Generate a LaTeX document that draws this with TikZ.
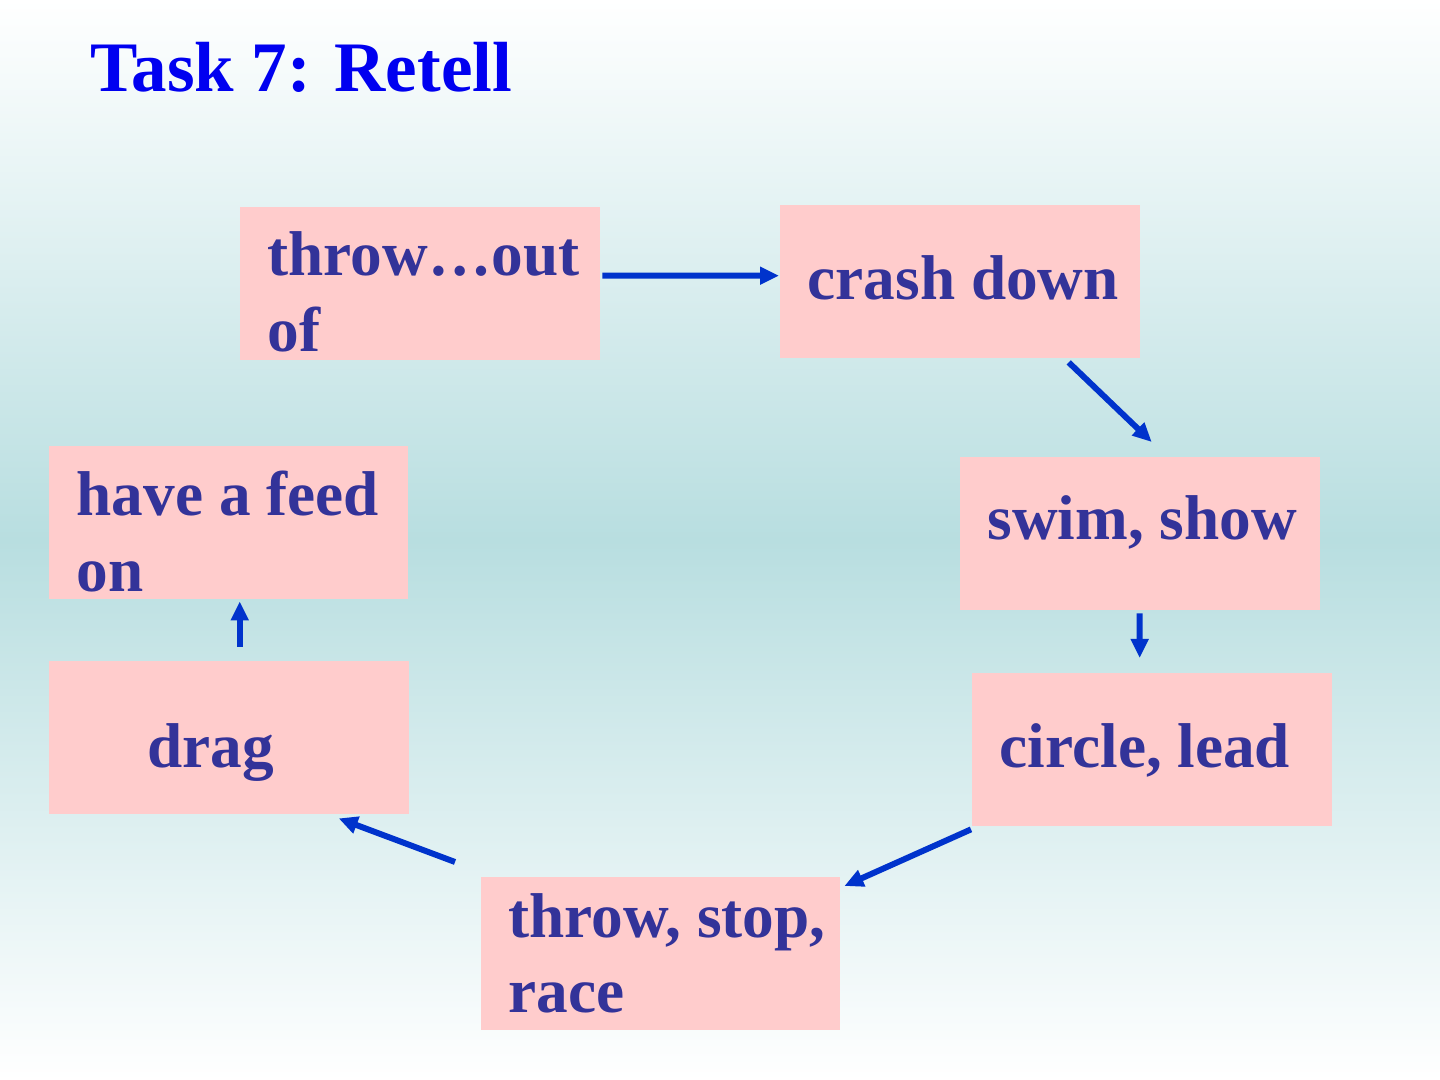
\documentclass[tikz,border=0pt]{standalone}
\usepackage{fontspec}
\setmainfont{Liberation Serif}
\usetikzlibrary{arrows.meta,calc}
\definecolor{boxpink}{RGB}{255,204,204}
\definecolor{txtblue}{RGB}{51,51,153}
\definecolor{arrblue}{RGB}{0,51,204}
\definecolor{titleblue}{RGB}{0,0,240}
\definecolor{bgteal}{RGB}{184,222,224}
\tikzset{
  box/.style={fill=boxpink, draw=none, rectangle, inner sep=0pt, minimum width=3.6cm, minimum height=1.53cm, anchor=north west},
  lbl/.style={anchor=base west, inner sep=0pt, text=txtblue, font=\fontsize{18}{21}\selectfont\bfseries},
  conn/.style={draw=arrblue, line width=1.7pt, -{Triangle[length=1.9mm,width=1.7mm]}}
}
\begin{document}
\begin{tikzpicture}
\useasboundingbox (0,0) rectangle (14.4,10.8);
\shade[top color=white, bottom color=white, middle color=bgteal] (0,0) rectangle (14.4,10.8);
% title
\node[anchor=base west, inner sep=0pt, text=titleblue, font=\fontsize{20.2}{24}\selectfont\bfseries] (title) at (0.90,9.88) {Task 7: Retell};
% boxes
\node[box] (b1) at (2.39,8.74) {};
\node[box] (b2) at (7.79,8.76) {};
\node[box] (b3) at (9.59,6.24) {};
\node[box] (b4) at (9.71,4.08) {};
\node[box, minimum width=3.59cm] (b5) at (4.80,2.04) {};
\node[box] (b6) at (0.48,4.20) {};
\node[box, minimum width=3.59cm] (b7) at (0.48,6.35) {};
% texts
\node[lbl] (t1a) at (2.67,8.04) {throw…out};
\node[lbl] (t1b) at (2.67,7.28) {of};
\node[lbl] (t2) at (8.07,7.80) {crash down};
\node[lbl] (t3) at (9.87,5.40) {swim, show};
\node[lbl] (t4) at (9.99,3.12) {circle, lead};
\node[lbl] (t5a) at (5.08,1.42) {throw, stop,};
\node[lbl] (t5b) at (5.08,0.67) {race};
\node[lbl] (t6) at (1.47,3.12) {drag};
\node[lbl] (t7a) at (0.76,5.64) {have a feed};
\node[lbl] (t7b) at (0.76,4.88) {on};
% connectors
\draw[conn] ([shift={(0.02,0.075)}]b1.east) -- ([shift={(0,0.055)}]b2.west);
\draw[conn] ([shift={(1.09,-0.04)}]b2.south) -- ([shift={(0.12,0.14)}]b3.north);
\draw[conn] ([shift={(0,-0.03)}]b3.south) -- ([shift={(-0.12,0.14)}]b4.north);
\draw[conn] ([shift={(0,-0.03)}]b4.south west) -- ([shift={(0.04,-0.10)}]b5.north east);
\draw[conn] ([shift={(-0.25,0.14)}]b5.north west) -- ([shift={(1.10,-0.04)}]b6.south);
\draw[conn] ([shift={(0.11,0.13)}]b6.north) -- ([shift={(0.115,-0.02)}]b7.south);
\end{tikzpicture}
\end{document}
